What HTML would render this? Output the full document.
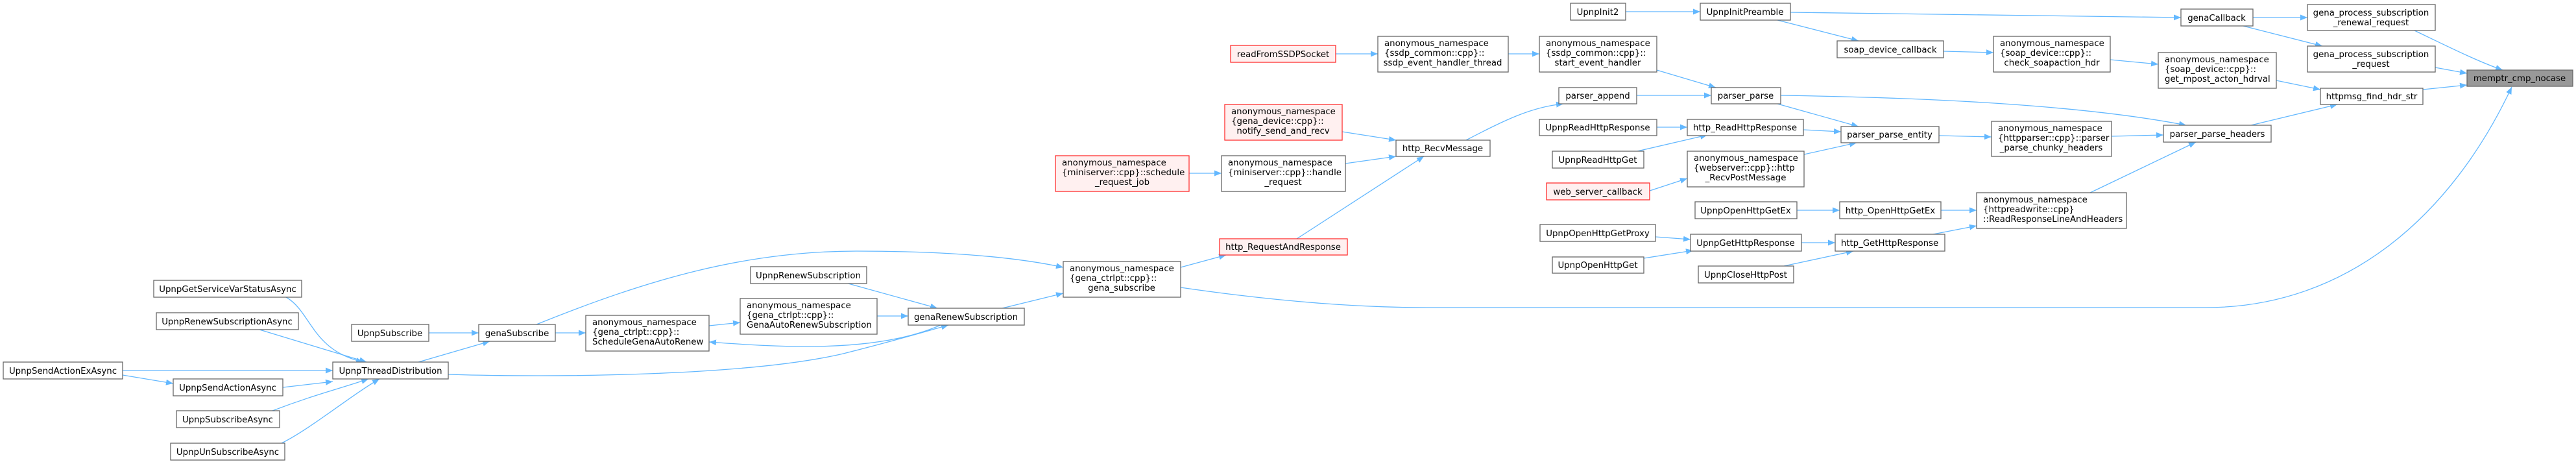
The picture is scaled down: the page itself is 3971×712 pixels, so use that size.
<!DOCTYPE html>
<html><head><meta charset="utf-8"><style>
html,body{margin:0;padding:0;background:#fff;}
svg{display:block;}
.n rect{fill:#fff;stroke:#666;stroke-width:1.3}
.r rect{fill:#fff0f0;stroke:#ff3030;stroke-width:1.3}
.g rect{fill:#999;stroke:#666;stroke-width:1.3}
text{font-family:"DejaVu Sans","Liberation Sans",sans-serif;font-size:13.3px;fill:#000}
.e path{fill:none;stroke:#63b8ff;stroke-width:1.3}
</style></head><body>
<svg width="3971" height="712" viewBox="0 0 3971 712" xmlns="http://www.w3.org/2000/svg">
<defs><marker id="a" markerUnits="userSpaceOnUse" markerWidth="12" markerHeight="10" refX="11" refY="4.5" orient="auto"><path d="M0,0 L11,4.5 L0,9 z" fill="#63b8ff"/></marker></defs>
<g class="e" marker-end="url(#a)">
<path d="M3473,27 L3557,27" marker-end="url(#a)"/>
<path d="M3458,40 L3580,71" marker-end="url(#a)"/>
<path d="M3722,47 C3770,70 3820,95 3858,108" marker-end="url(#a)"/>
<path d="M3754,104 L3803,113" marker-end="url(#a)"/>
<path d="M3735,138 L3803,131" marker-end="url(#a)"/>
<path d="M1820,443 C1950,462 2080,474 2200,474 L3400,474 C3620,474 3780,330 3872,134" marker-end="url(#a)"/>
<path d="M2760,19 L3362,27" marker-end="url(#a)"/>
<path d="M2506,18 L2621,18" marker-end="url(#a)"/>
<path d="M2740,31 L2865,63" marker-end="url(#a)"/>
<path d="M2996,79 L3073,81" marker-end="url(#a)"/>
<path d="M3253,92 L3327,99" marker-end="url(#a)"/>
<path d="M3509,124 L3577,138" marker-end="url(#a)"/>
<path d="M3470,193 L3603,161" marker-end="url(#a)"/>
<path d="M2745,147 C2950,150 3200,160 3370,193" marker-end="url(#a)"/>
<path d="M3255,210 L3335,208" marker-end="url(#a)"/>
<path d="M3222,297 L3385,219" marker-end="url(#a)"/>
<path d="M2989,209 L3070,211" marker-end="url(#a)"/>
<path d="M2740,160 L2865,195" marker-end="url(#a)"/>
<path d="M2780,200 L2838,203" marker-end="url(#a)"/>
<path d="M2781,238 L2862,220" marker-end="url(#a)"/>
<path d="M2554,108 L2645,135" marker-end="url(#a)"/>
<path d="M2523,147 L2638,147" marker-end="url(#a)"/>
<path d="M2325,83 L2373,83" marker-end="url(#a)"/>
<path d="M2059,83 L2124,83" marker-end="url(#a)"/>
<path d="M2260,216 C2320,185 2360,165 2410,160" marker-end="url(#a)"/>
<path d="M2554,196 L2601,196" marker-end="url(#a)"/>
<path d="M2524,233 L2632,208" marker-end="url(#a)"/>
<path d="M2543,294 L2601,275" marker-end="url(#a)"/>
<path d="M2069,203 L2152,216" marker-end="url(#a)"/>
<path d="M2074,252 L2152,241" marker-end="url(#a)"/>
<path d="M1999,368 L2195,241" marker-end="url(#a)"/>
<path d="M1833,267 L1883,267" marker-end="url(#a)"/>
<path d="M1820,412 L1890,393" marker-end="url(#a)"/>
<path d="M2770,324 L2836,324" marker-end="url(#a)"/>
<path d="M2992,324 L3047,324" marker-end="url(#a)"/>
<path d="M2980,361 L3047,348" marker-end="url(#a)"/>
<path d="M2777,374 L2829,374" marker-end="url(#a)"/>
<path d="M2750,410 L2857,387" marker-end="url(#a)"/>
<path d="M2552,365 L2606,369" marker-end="url(#a)"/>
<path d="M2534,398 L2610,386" marker-end="url(#a)"/>
<path d="M827,500 C1000,430 1150,387 1320,387 C1450,387 1560,395 1639,412" marker-end="url(#a)"/>
<path d="M1545,475 L1639,452" marker-end="url(#a)"/>
<path d="M1304,436 L1445,475" marker-end="url(#a)"/>
<path d="M1352,487 L1400,487" marker-end="url(#a)"/>
<path d="M1450,501 C1350,545 1200,535 1093,527" marker-end="url(#a)"/>
<path d="M691,577 C850,582 1150,580 1300,545 C1380,525 1430,510 1462,501" marker-end="url(#a)"/>
<path d="M1093,502 L1141,497" marker-end="url(#a)"/>
<path d="M856,513 L903,513" marker-end="url(#a)"/>
<path d="M661,513 L738,513" marker-end="url(#a)"/>
<path d="M645,558 L755,526" marker-end="url(#a)"/>
<path d="M441,458 C480,480 480,540 560,558" marker-end="url(#a)"/>
<path d="M400,508 L565,558" marker-end="url(#a)"/>
<path d="M189,571 L513,571" marker-end="url(#a)"/>
<path d="M189,578 L267,591" marker-end="url(#a)"/>
<path d="M436,597 L513,588" marker-end="url(#a)"/>
<path d="M420,633 C480,610 520,600 568,584" marker-end="url(#a)"/>
<path d="M434,683 C480,660 540,610 585,584" marker-end="url(#a)"/>
</g>

<g class="n"><rect x="237" y="432" width="228" height="26"/><text x="351" y="450" text-anchor="middle">UpnpGetServiceVarStatusAsync</text></g>
<g class="n"><rect x="241" y="482" width="219" height="26"/><text x="350" y="500" text-anchor="middle">UpnpRenewSubscriptionAsync</text></g>
<g class="n"><rect x="542" y="500" width="119" height="26"/><text x="601" y="518" text-anchor="middle">UpnpSubscribe</text></g>
<g class="n"><rect x="738" y="500" width="118" height="26"/><text x="797" y="518" text-anchor="middle">genaSubscribe</text></g>
<g class="n"><rect x="5" y="558" width="184" height="26"/><text x="97" y="576" text-anchor="middle">UpnpSendActionExAsync</text></g>
<g class="n"><rect x="513" y="558" width="178" height="26"/><text x="602" y="576" text-anchor="middle">UpnpThreadDistribution</text></g>
<g class="n"><rect x="267" y="584" width="169" height="26"/><text x="351" y="602" text-anchor="middle">UpnpSendActionAsync</text></g>
<g class="n"><rect x="272" y="633" width="159" height="26"/><text x="351" y="651" text-anchor="middle">UpnpSubscribeAsync</text></g>
<g class="n"><rect x="263" y="683" width="176" height="26"/><text x="351" y="701" text-anchor="middle">UpnpUnSubscribeAsync</text></g>
<g class="n"><rect x="903" y="486" width="190" height="55"/><text x="913" y="501">anonymous_namespace</text><text x="913" y="516">{gena_ctrlpt::cpp}::</text><text x="913" y="531">ScheduleGenaAutoRenew</text></g>
<g class="n"><rect x="1141" y="460" width="211" height="55"/><text x="1151" y="475">anonymous_namespace</text><text x="1151" y="490">{gena_ctrlpt::cpp}::</text><text x="1151" y="505">GenaAutoRenewSubscription</text></g>
<g class="n"><rect x="1157" y="411" width="179" height="26"/><text x="1246" y="429" text-anchor="middle">UpnpRenewSubscription</text></g>
<g class="n"><rect x="1400" y="475" width="179" height="26"/><text x="1489" y="493" text-anchor="middle">genaRenewSubscription</text></g>
<g class="n"><rect x="1639" y="403" width="181" height="55"/><text x="1649" y="418">anonymous_namespace</text><text x="1649" y="433">{gena_ctrlpt::cpp}::</text><text x="1729" y="448" text-anchor="middle">gena_subscribe</text></g>
<g class="r"><rect x="1880" y="368" width="197" height="25"/><text x="1978" y="385" text-anchor="middle">http_RequestAndResponse</text></g>
<g class="r"><rect x="1627" y="240" width="206" height="55"/><text x="1637" y="255">anonymous_namespace</text><text x="1637" y="270">{miniserver::cpp}::schedule</text><text x="1730" y="285" text-anchor="middle">_request_job</text></g>
<g class="n"><rect x="1883" y="240" width="191" height="55"/><text x="1893" y="255">anonymous_namespace</text><text x="1893" y="270">{miniserver::cpp}::handle</text><text x="1978" y="285" text-anchor="middle">_request</text></g>
<g class="r"><rect x="1888" y="161" width="181" height="55"/><text x="1898" y="176">anonymous_namespace</text><text x="1898" y="191">{gena_device::cpp}::</text><text x="1978" y="206" text-anchor="middle">notify_send_and_recv</text></g>
<g class="r"><rect x="1897" y="70" width="162" height="26"/><text x="1978" y="88" text-anchor="middle">readFromSSDPSocket</text></g>
<g class="n"><rect x="2124" y="56" width="201" height="55"/><text x="2134" y="71">anonymous_namespace</text><text x="2134" y="86">{ssdp_common::cpp}::</text><text x="2224" y="101" text-anchor="middle">ssdp_event_handler_thread</text></g>
<g class="n"><rect x="2152" y="216" width="145" height="25"/><text x="2224" y="233" text-anchor="middle">http_RecvMessage</text></g>
<g class="n"><rect x="2421" y="5" width="85" height="26"/><text x="2463" y="23" text-anchor="middle">UpnpInit2</text></g>
<g class="n"><rect x="2373" y="56" width="181" height="55"/><text x="2383" y="71">anonymous_namespace</text><text x="2383" y="86">{ssdp_common::cpp}::</text><text x="2463" y="101" text-anchor="middle">start_event_handler</text></g>
<g class="n"><rect x="2403" y="135" width="120" height="25"/><text x="2463" y="152" text-anchor="middle">parser_append</text></g>
<g class="n"><rect x="2373" y="184" width="181" height="25"/><text x="2463" y="201" text-anchor="middle">UpnpReadHttpResponse</text></g>
<g class="n"><rect x="2393" y="233" width="141" height="26"/><text x="2463" y="251" text-anchor="middle">UpnpReadHttpGet</text></g>
<g class="r"><rect x="2384" y="282" width="159" height="26"/><text x="2463" y="300" text-anchor="middle">web_server_callback</text></g>
<g class="n"><rect x="2374" y="346" width="178" height="26"/><text x="2463" y="364" text-anchor="middle">UpnpOpenHttpGetProxy</text></g>
<g class="n"><rect x="2393" y="396" width="141" height="25"/><text x="2463" y="413" text-anchor="middle">UpnpOpenHttpGet</text></g>
<g class="n"><rect x="2621" y="5" width="139" height="26"/><text x="2690" y="23" text-anchor="middle">UpnpInitPreamble</text></g>
<g class="n"><rect x="2638" y="135" width="107" height="25"/><text x="2691" y="152" text-anchor="middle">parser_parse</text></g>
<g class="n"><rect x="2601" y="184" width="179" height="25"/><text x="2690" y="201" text-anchor="middle">http_ReadHttpResponse</text></g>
<g class="n"><rect x="2601" y="233" width="180" height="55"/><text x="2611" y="248">anonymous_namespace</text><text x="2611" y="263">{webserver::cpp}::http</text><text x="2691" y="278" text-anchor="middle">_RecvPostMessage</text></g>
<g class="n"><rect x="2613" y="311" width="157" height="26"/><text x="2691" y="329" text-anchor="middle">UpnpOpenHttpGetEx</text></g>
<g class="n"><rect x="2606" y="361" width="171" height="26"/><text x="2691" y="379" text-anchor="middle">UpnpGetHttpResponse</text></g>
<g class="n"><rect x="2618" y="410" width="147" height="26"/><text x="2691" y="428" text-anchor="middle">UpnpCloseHttpPost</text></g>
<g class="n"><rect x="2832" y="63" width="164" height="26"/><text x="2914" y="81" text-anchor="middle">soap_device_callback</text></g>
<g class="n"><rect x="2838" y="195" width="151" height="25"/><text x="2913" y="212" text-anchor="middle">parser_parse_entity</text></g>
<g class="n"><rect x="2836" y="311" width="156" height="26"/><text x="2914" y="329" text-anchor="middle">http_OpenHttpGetEx</text></g>
<g class="n"><rect x="2829" y="361" width="169" height="26"/><text x="2913" y="379" text-anchor="middle">http_GetHttpResponse</text></g>
<g class="n"><rect x="3073" y="56" width="180" height="55"/><text x="3083" y="71">anonymous_namespace</text><text x="3083" y="86">{soap_device::cpp}::</text><text x="3163" y="101" text-anchor="middle">check_soapaction_hdr</text></g>
<g class="n"><rect x="3070" y="187" width="185" height="54"/><text x="3080" y="202">anonymous_namespace</text><text x="3080" y="217">{httpparser::cpp}::parser</text><text x="3162" y="232" text-anchor="middle">_parse_chunky_headers</text></g>
<g class="n"><rect x="3047" y="297" width="231" height="55"/><text x="3057" y="312">anonymous_namespace</text><text x="3057" y="327">{httpreadwrite::cpp}</text><text x="3057" y="342">::ReadResponseLineAndHeaders</text></g>
<g class="n"><rect x="3327" y="81" width="182" height="55"/><text x="3337" y="96">anonymous_namespace</text><text x="3337" y="111">{soap_device::cpp}::</text><text x="3337" y="126">get_mpost_acton_hdrval</text></g>
<g class="n"><rect x="3335" y="193" width="166" height="26"/><text x="3418" y="211" text-anchor="middle">parser_parse_headers</text></g>
<g class="n"><rect x="3362" y="14" width="111" height="26"/><text x="3417" y="32" text-anchor="middle">genaCallback</text></g>
<g class="n"><rect x="3557" y="7" width="197" height="40"/><text x="3655" y="24" text-anchor="middle">gena_process_subscription</text><text x="3655" y="39" text-anchor="middle">_renewal_request</text></g>
<g class="n"><rect x="3557" y="71" width="197" height="40"/><text x="3655" y="88" text-anchor="middle">gena_process_subscription</text><text x="3655" y="103" text-anchor="middle">_request</text></g>
<g class="n"><rect x="3577" y="136" width="158" height="25"/><text x="3656" y="153" text-anchor="middle">httpmsg_find_hdr_str</text></g>
<g class="g"><rect x="3803" y="108" width="163" height="25"/><text x="3884" y="125" text-anchor="middle">memptr_cmp_nocase</text></g>
</svg>
</body></html>
